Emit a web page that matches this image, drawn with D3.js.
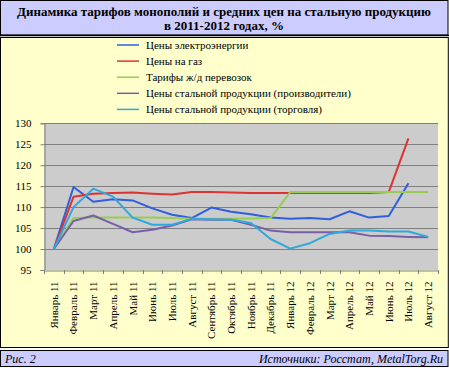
<!DOCTYPE html>
<html>
<head>
<meta charset="utf-8">
<script src="https://cdn.jsdelivr.net/npm/d3@7"></script>
<style>
  body { margin: 0; background: #fff; }
</style>
</head>
<body>
<div id="chart"></div>
<script>
const W = 449, H = 368;
const SERIF = "'Liberation Serif', 'Times New Roman', Tinos, 'DejaVu Serif', serif";

const months = ["Январь 11", "Февраль 11", "Март 11", "Апрель 11", "Май 11", "Июнь 11",
    "Июль 11", "Август 11", "Сентябрь 11", "Октябрь 11", "Ноябрь 11", "Декабрь 11",
    "Январь 12", "Февраль 12", "Март 12", "Апрель 12", "Май 12", "Июнь 12", "Июль 12", "Август 12"];

const elec = [100, 114.8, 111.3, 111.9, 111.6, 109.7, 108.2, 107.4, 109.9, 108.9, 108.3, 107.5,
    107.2, 107.4, 107.1, 109.0, 107.5, 107.9, 115.7, null];
const gas = [100, 112.5, 113.2, 113.4, 113.5, 113.2, 113.0, 113.6, 113.6, 113.5, 113.4, 113.4,
    113.4, 113.4, 113.4, 113.4, 113.4, 113.6, 126.4, null];
const rail = [100, 107.4, 107.5, 107.5, 107.5, 107.5, 107.4, 107.2, 107.2, 107.2, 107.3, 107.4,
    113.6, 113.6, 113.6, 113.6, 113.6, 113.6, 113.6, 113.6];
const steelProd = [100, 106.7, 108.0, 106.0, 104.0, 104.6, 105.6, 107.1, 107.0, 107.0, 105.8, 104.4,
    104.0, 104.0, 104.0, 104.0, 103.2, 103.1, 102.9, 102.8];
const steelTrade = [100, 110.0, 114.4, 112.5, 107.5, 105.8, 105.8, 107.2, 107.1, 107.0, 106.2, 102.4,
    100.1, 101.4, 103.6, 104.4, 104.4, 104.2, 104.2, 102.9];

const seriesNames = ["Цены электроэнергии", "Цены на газ", "Тарифы ж/д перевозок",
    "Цены стальной продукции (производители)", "Цены стальной продукции (торговля)"];
const seriesColors = ["#2f5fdc", "#dd3333", "#99cc55", "#7a5ea8", "#2ea9dc"];
const seriesData = [elec, gas, rail, steelProd, steelTrade];

const yTicks = [95, 100, 105, 110, 115, 120, 125, 130];

const svg = d3.select("#chart").append("svg")
    .attr("width", W)
    .attr("height", H)
    .style("font-family", SERIF);

// title box
svg.append("rect")
    .attr("x", 0.5).attr("y", 0.5).attr("width", 447.5).attr("height", 34.5)
    .attr("fill", "#ccccff").attr("stroke", "#000").attr("stroke-width", 1);
svg.append("line")
    .attr("x1", 0).attr("x2", 449).attr("y1", 35.5).attr("y2", 35.5)
    .attr("stroke", "#000").attr("stroke-width", 1.5);
svg.append("text")
    .attr("x", 224).attr("y", 16)
    .attr("text-anchor", "middle").attr("font-size", "13px").attr("font-weight", "bold")
    .style("font-family", SERIF)
    .text("Динамика тарифов монополий и средних цен на стальную продукцию");
svg.append("text")
    .attr("x", 224).attr("y", 30)
    .attr("text-anchor", "middle").attr("font-size", "13px").attr("font-weight", "bold")
    .style("font-family", SERIF)
    .text("в 2011-2012 годах, %");

// chart box
svg.append("rect")
    .attr("x", 0.5).attr("y", 37.5).attr("width", 447.8).attr("height", 310)
    .attr("fill", "#ffffcc").attr("stroke", "#000").attr("stroke-width", 1);

// footer box
svg.append("rect")
    .attr("x", 0.5).attr("y", 350.5).attr("width", 447.5).attr("height", 16)
    .attr("fill", "#ccccff").attr("stroke", "#000").attr("stroke-width", 1);
svg.append("text")
    .attr("x", 5).attr("y", 363)
    .attr("font-size", "12px").attr("font-style", "italic")
    .style("font-family", SERIF)
    .text("Рис. 2");
svg.append("text")
    .attr("x", 443).attr("y", 363)
    .attr("text-anchor", "end").attr("font-size", "12px").attr("font-style", "italic")
    .style("font-family", SERIF)
    .text("Источники: Росстат, MetalTorg.Ru");

// plot
const plot = { left: 44, right: 438, top: 123.3, bottom: 270 };

const x = d3.scaleBand()
    .domain(months)
    .range([plot.left, plot.right]);

const y = d3.scaleLinear()
    .domain([95, 130])
    .range([plot.bottom, plot.top]);

svg.append("rect")
    .attr("x", plot.left).attr("y", plot.top)
    .attr("width", plot.right - plot.left).attr("height", plot.bottom - plot.top)
    .attr("fill", "#cccccc");

svg.append("g")
    .selectAll("line")
    .data(yTicks.filter(d => d > 95))
    .join("line")
    .attr("x1", plot.left).attr("x2", plot.right)
    .attr("y1", d => Math.round(y(d)) + 0.5).attr("y2", d => Math.round(y(d)) + 0.5)
    .attr("stroke", "#808080").attr("stroke-width", 1);

// y axis
const yAxis = svg.append("g")
    .attr("transform", `translate(${plot.left + 0.5},0)`)
    .call(d3.axisLeft(y).tickValues(yTicks).tickSize(4).tickPadding(9));
yAxis.attr("font-family", null);
yAxis.selectAll("text").attr("font-size", "11px").attr("fill", "#000")
    .style("font-family", SERIF);
yAxis.selectAll("line").attr("stroke", "#808080");
yAxis.select(".domain").attr("stroke", "#808080");

// x axis
const xAxis = svg.append("g")
    .attr("transform", `translate(0,${plot.bottom + 0.5})`)
    .call(d3.axisBottom(x).tickSize(0));
xAxis.attr("font-family", null);
xAxis.select(".domain").attr("stroke", "#808080");
xAxis.selectAll("text")
    .attr("font-size", "11px").attr("fill", "#000")
    .style("font-family", SERIF)
    .attr("text-anchor", "end")
    .attr("transform", "rotate(-90)")
    .attr("x", -11).attr("y", 0).attr("dy", "0.35em");

svg.append("g")
    .selectAll("line")
    .data(months.concat(["end"]))
    .join("line")
    .attr("x1", (d, i) => Math.round(plot.left + i * x.bandwidth()) + 0.5)
    .attr("x2", (d, i) => Math.round(plot.left + i * x.bandwidth()) + 0.5)
    .attr("y1", plot.bottom).attr("y2", plot.bottom + 4)
    .attr("stroke", "#808080");

// series lines
const line = d3.line()
    .defined(d => d != null)
    .x((d, i) => x(months[i]) + x.bandwidth() / 2)
    .y(d => y(d));

seriesData.forEach((vals, k) => {
    svg.append("path")
        .datum(vals)
        .attr("fill", "none")
        .attr("stroke", seriesColors[k])
        .attr("stroke-width", 2)
        .attr("stroke-linejoin", "round")
        .attr("d", line);
});

// legend
const legend = svg.append("g");
seriesNames.forEach((name, k) => {
    const ly = 45 + k * 16.1;
    legend.append("line")
        .attr("x1", 117).attr("x2", 139).attr("y1", ly).attr("y2", ly)
        .attr("stroke", seriesColors[k]).attr("stroke-width", 1.5);
    legend.append("text")
        .attr("x", 146).attr("y", ly + 4)
        .attr("font-size", "11px")
        .style("font-family", SERIF)
        .text(name);
});
</script>
</body>
</html>
